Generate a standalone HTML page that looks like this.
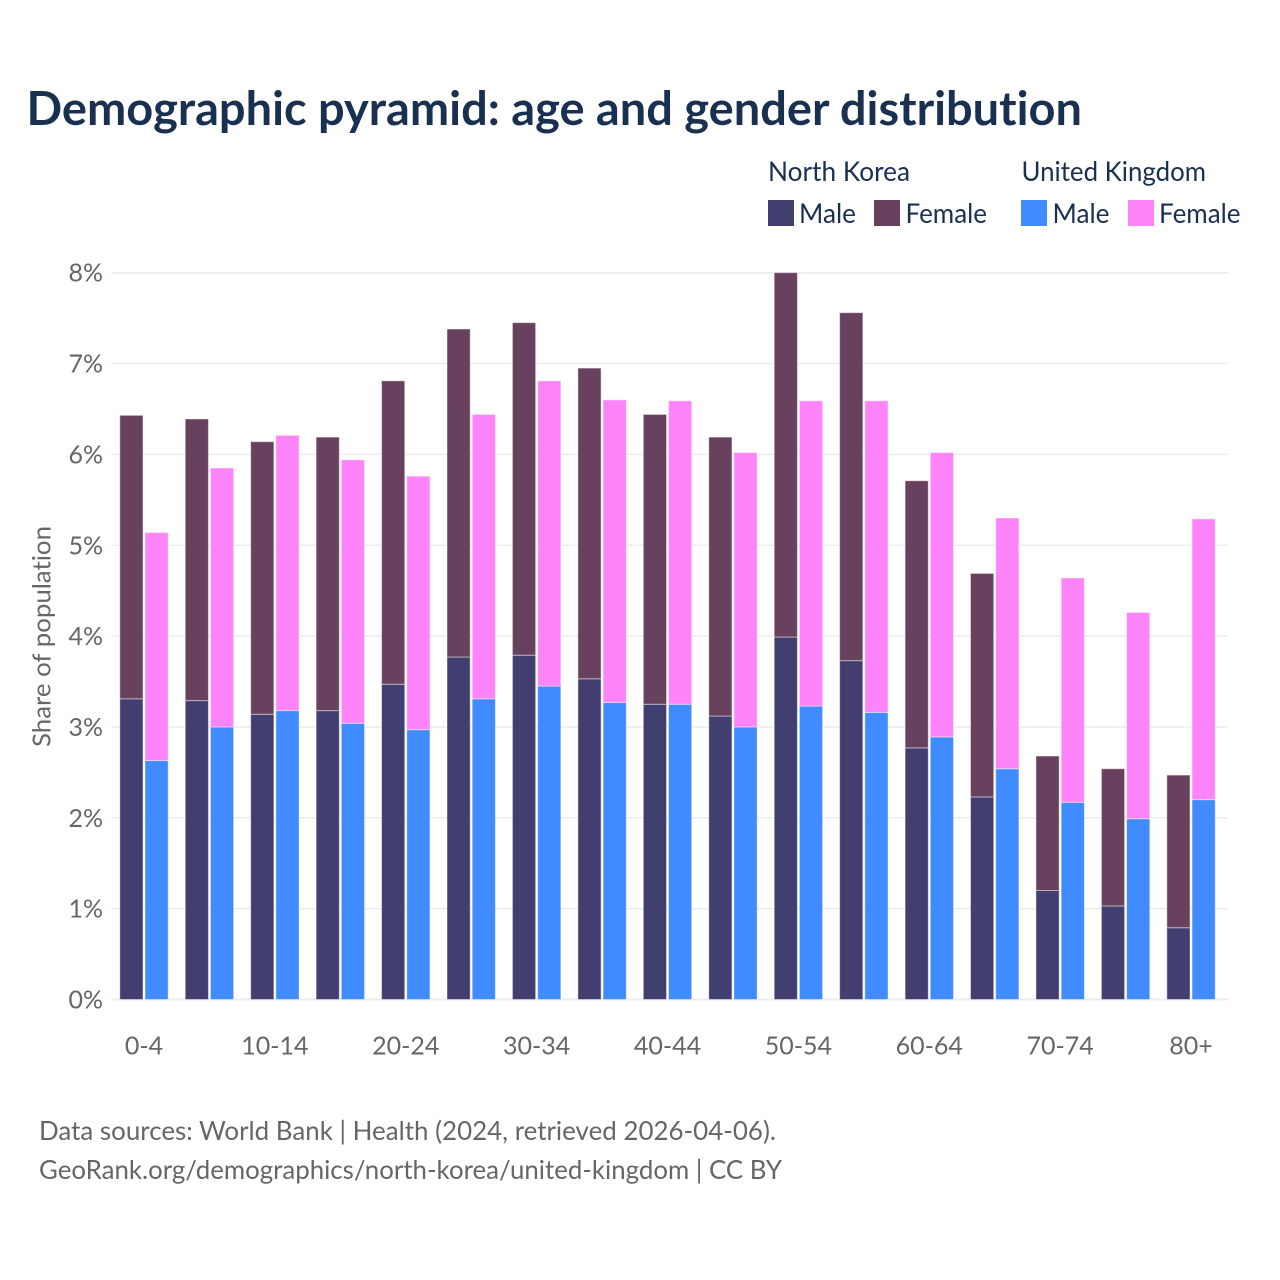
<!DOCTYPE html>
<html lang="en">
<head>
<meta charset="utf-8">
<title>Demographic pyramid</title>
<style>
html,body{margin:0;padding:0;background:#fff;}
svg{display:block;}
text{font-family:"Lato","Carlito","Liberation Sans",sans-serif;font-variant-ligatures:none;}
</style>
</head>
<body>
<svg id="chart" width="1280" height="1280" viewBox="0 0 1280 1280" xmlns="http://www.w3.org/2000/svg">
  <rect x="0" y="0" width="1280" height="1280" fill="#ffffff"/>
  <text x="26.5" y="125" font-size="47" font-weight="700" fill="#1a3050" textLength="1055.5" lengthAdjust="spacingAndGlyphs">Demographic pyramid: age and gender distribution</text>

  <text x="768" y="181" font-size="27" fill="#1a3050" textLength="142" lengthAdjust="spacingAndGlyphs">North Korea</text>
  <text x="1021.5" y="181" font-size="27" fill="#1a3050" textLength="184.5" lengthAdjust="spacingAndGlyphs">United Kingdom</text>
  <g>
    <rect x="768" y="200" width="26" height="26" fill="#423f70"/>
    <text x="799" y="223" font-size="27" fill="#1a3050" textLength="57" lengthAdjust="spacingAndGlyphs">Male</text>
  </g>
  <g>
    <rect x="874" y="200" width="26" height="26" fill="#68415f"/>
    <text x="905.5" y="223" font-size="27" fill="#1a3050" textLength="81.5" lengthAdjust="spacingAndGlyphs">Female</text>
  </g>
  <g>
    <rect x="1021" y="200" width="26" height="26" fill="#3f8bff"/>
    <text x="1052.5" y="223" font-size="27" fill="#1a3050" textLength="57" lengthAdjust="spacingAndGlyphs">Male</text>
  </g>
  <g>
    <rect x="1128" y="200" width="26" height="26" fill="#ff84fa"/>
    <text x="1159" y="223" font-size="27" fill="#1a3050" textLength="81.5" lengthAdjust="spacingAndGlyphs">Female</text>
  </g>

  <g id="grid"></g>
  <g id="y-ticks"></g>
  <g id="bars"></g>
  <g id="x-ticks"></g>

  <text transform="translate(50.5,636.5) rotate(-90)" text-anchor="middle" font-size="25" fill="#666666" textLength="221" lengthAdjust="spacingAndGlyphs">Share of population</text>

  <text x="39" y="1140" font-size="26" fill="#666666" textLength="737" lengthAdjust="spacingAndGlyphs">Data sources: World Bank | Health (2024, retrieved 2026-04-06).</text>
  <text x="39" y="1179" font-size="26" fill="#666666" textLength="743" lengthAdjust="spacingAndGlyphs">GeoRank.org/demographics/north-korea/united-kingdom | CC BY</text>
</svg>
<script>
const categories = ["0-4","5-9","10-14","15-19","20-24","25-29","30-34","35-39","40-44","45-49","50-54","55-59","60-64","65-69","70-74","75-79","80+"];
const northKoreaMale = [3.31,3.29,3.14,3.18,3.47,3.77,3.79,3.53,3.25,3.12,3.99,3.73,2.77,2.23,1.20,1.03,0.79];
const northKoreaFemale = [3.12,3.10,3.00,3.01,3.34,3.61,3.66,3.42,3.19,3.07,4.01,3.83,2.94,2.46,1.48,1.51,1.68];
const unitedKingdomMale = [2.63,3.00,3.18,3.04,2.97,3.31,3.45,3.27,3.25,3.00,3.23,3.16,2.89,2.54,2.17,1.99,2.20];
const unitedKingdomFemale = [2.51,2.85,3.03,2.90,2.79,3.13,3.36,3.33,3.34,3.02,3.36,3.43,3.13,2.76,2.47,2.27,3.09];
const yTickValues = [0,1,2,3,4,5,6,7,8];
const xTickLabels = ["0-4","10-14","20-24","30-34","40-44","50-54","60-64","70-74","80+"];

const NS = "http://www.w3.org/2000/svg";
const yScale = v => 999.5 - v * 90.85;
const xCenter = i => 144 + i * 65.44;
const barWidth = 23.2;
const barGap = 1;

function addRect(parent, x, top, bottom, fill) {
  const r = document.createElementNS(NS, "rect");
  r.setAttribute("x", x);
  r.setAttribute("y", top);
  r.setAttribute("width", barWidth);
  r.setAttribute("height", Math.max(0, bottom - top));
  r.setAttribute("fill", fill);
  r.setAttribute("stroke", "#ffffff");
  r.setAttribute("stroke-opacity", "0.45");
  r.setAttribute("stroke-width", "1");
  parent.appendChild(r);
  return r;
}

const gridGroup = document.getElementById("grid");
const yTickGroup = document.getElementById("y-ticks");
yTickValues.forEach(v => {
  const line = document.createElementNS(NS, "line");
  
  
  line.setAttribute("x1", 111);
  line.setAttribute("x2", 1228);
  line.setAttribute("y1", yScale(v));
  line.setAttribute("y2", yScale(v));
  line.setAttribute("stroke", "#ececec");
  line.setAttribute("stroke-width", v === 0 ? 2 : 1.5);
  gridGroup.appendChild(line);
  const t = document.createElementNS(NS, "text");
  
  
  t.setAttribute("x", 103);
  t.setAttribute("y", yScale(v) + 9);
  t.setAttribute("text-anchor", "end");
  t.setAttribute("font-size", "25");
  t.setAttribute("fill", "#666666");
  t.setAttribute("textLength", "34.5");
  t.setAttribute("lengthAdjust", "spacingAndGlyphs");
  t.textContent = v + "%";
  yTickGroup.appendChild(t);
});

const barGroup = document.getElementById("bars");
categories.forEach((c, i) => {
  const nkX = xCenter(i) - barGap - barWidth;
  const ukX = xCenter(i) + barGap;
  const base = yScale(0);
  const nkMid = yScale(northKoreaMale[i]);
  const nkTop = yScale(northKoreaMale[i] + northKoreaFemale[i]);
  const ukMid = yScale(unitedKingdomMale[i]);
  const ukTop = yScale(unitedKingdomMale[i] + unitedKingdomFemale[i]);

  const a = addRect(barGroup, nkX, nkMid, base, "#423f70");
  
  
  const b = addRect(barGroup, nkX, nkTop, nkMid, "#68415f");
  
  
  const d = addRect(barGroup, ukX, ukMid, base, "#3f8bff");
  
  
  const e = addRect(barGroup, ukX, ukTop, ukMid, "#ff84fa");
  
  
});

const xTickGroup = document.getElementById("x-ticks");
xTickLabels.forEach(label => {
  const t = document.createElementNS(NS, "text");
  
  
  t.setAttribute("x", xCenter(categories.indexOf(label)));
  t.setAttribute("y", 1054.5);
  t.setAttribute("text-anchor", "middle");
  t.setAttribute("font-size", "25");
  t.setAttribute("fill", "#666666");
  t.textContent = label;
  xTickGroup.appendChild(t);
});
</script>
</body>
</html>
